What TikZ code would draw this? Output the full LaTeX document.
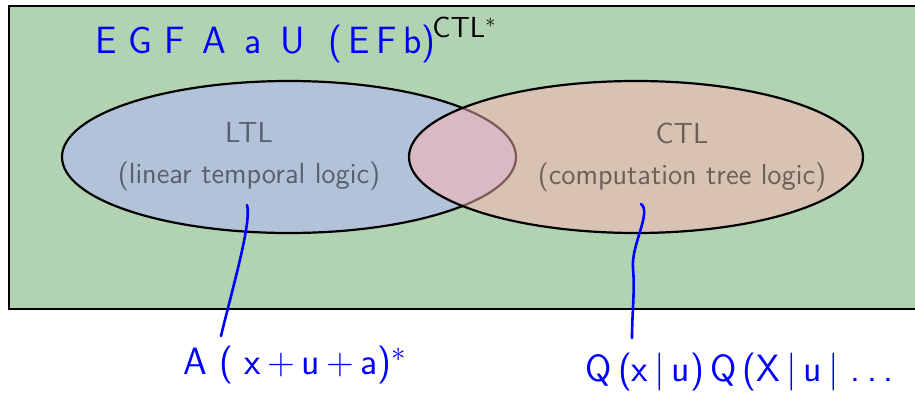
\documentclass[tikz,border=0pt]{standalone}
\usetikzlibrary{shapes.geometric}
\definecolor{setbg}{RGB}{178,211,178}
\tikzset{
  setbox/.style={ellipse,draw,line width=1.1pt,minimum width=227pt,minimum height=76pt,inner sep=0pt,fill opacity=.5},
  settext/.style={align=center,text opacity=.5,font=\sffamily\fontsize{14.5}{20.5}\selectfont},
  hand/.style={blue,anchor=base west,inner sep=0pt,font=\sffamily\fontsize{19}{20}\selectfont},
  scrawl/.style={blue,line width=1.3pt,line cap=round},
}
\begin{document}
\begin{tikzpicture}[x=.5pt,y=-.5pt]
  \useasboundingbox (0,0) rectangle (915,395);
  % CTL* frame
  \path[draw,line width=1.2pt,fill=setbg] (9,6) rectangle (930,309);
  \node[anchor=base west,inner sep=0pt,font=\sffamily\fontsize{14.5}{16}\selectfont] (ctlstar) at (432,38) {CTL$^*$};

  % the two sets
  \node[setbox,fill=blue!30] (ltl) at (289,157) {};
  \node[settext] (ltltext) at (249,157) {LTL\\(linear temporal logic)};
  \node[setbox,fill=red!30] (ctl) at (636,157) {};
  \node[settext] (ctltext) at (682,157) {CTL\\(computation tree logic)};

  % notes
  \node[hand] (ctlnote) at (95,54) {E\ G\ F\ \,A\ \,a\ \,U\ \ (\,E\,F\,b)};
  \node[hand] (ltlnote) at (183,374) {A\ (\ x\,+\,u\,+\,a)$^*$};
  \node[hand] (ctlnote2) at (585,381) {Q\,(x\,|\,u)\,Q\,(X\,|\,u\,|\ .\,.\,.};
  \coordinate (ltlpin) at (247,205);
  \coordinate (ltlend) at (221,336);
  \coordinate (ctlpin) at (641,204);
  \coordinate (ctlend) at (632,338);
  \draw[scrawl] (ltlpin) .. controls (252,222) and (232,290) .. (ltlend);
  \draw[scrawl] (ctlpin) .. controls (652,212) and (631,245) .. (633,268) .. controls (635,292) and (632,312) .. (ctlend);
\end{tikzpicture}
\end{document}
